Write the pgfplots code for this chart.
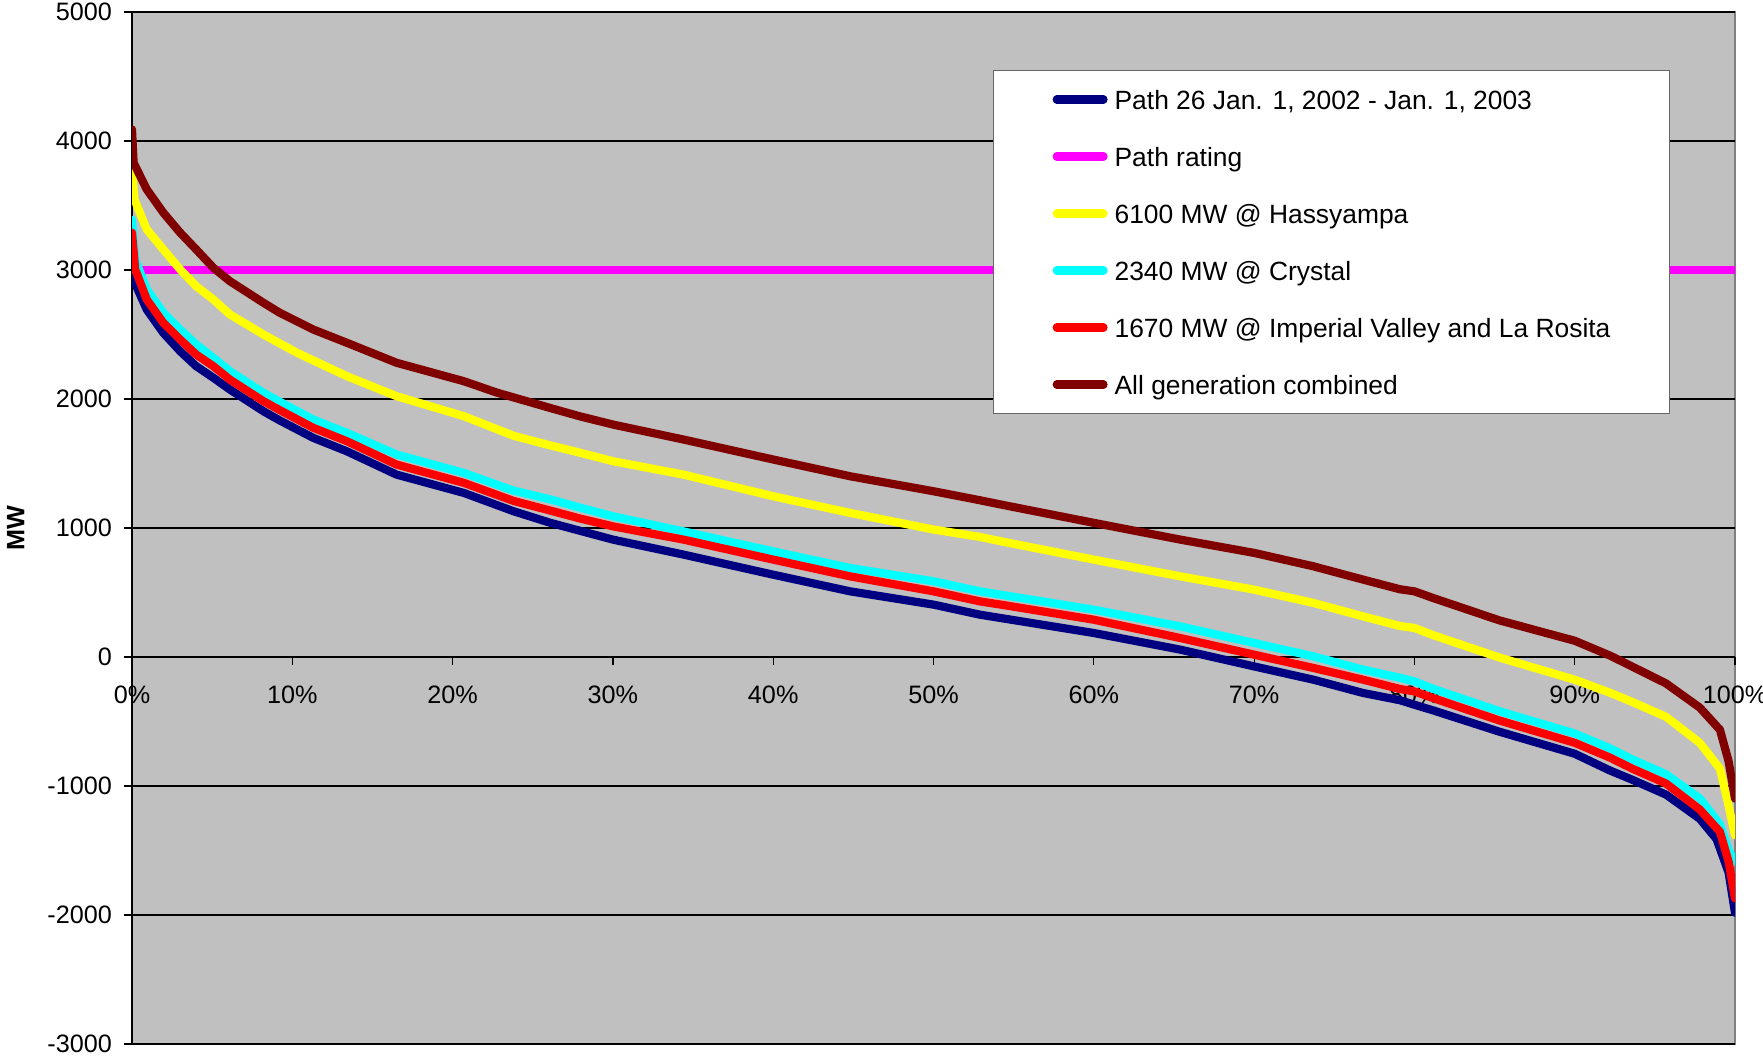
\documentclass[border=0pt]{standalone}
\usepackage{fontspec}
\setmainfont{Liberation Sans}
\usepackage{pgfplots}
\pgfplotsset{compat=1.18}
\definecolor{plotbg}{RGB}{192,192,192}
\definecolor{navyc}{RGB}{0,0,128}
\definecolor{maroonc}{RGB}{128,0,0}
\definecolor{magc}{RGB}{255,0,255}
\definecolor{yelc}{RGB}{255,255,0}
\definecolor{cyac}{RGB}{0,255,255}
\definecolor{redc}{RGB}{255,0,0}
\newcommand{\lstrut}{\rule[-4.2pt]{0pt}{15.6pt}}
\begin{document}
\begin{tikzpicture}
\useasboundingbox (0,0) rectangle (881.5pt,528pt);
\begin{axis}[
 at={(66pt,6pt)}, anchor=south west,
 scale only axis, width=801.5pt, height=516pt,
 xmin=0, xmax=100, ymin=-3000, ymax=5000,
 axis x line=middle, axis y line=left,
 hide obscured x ticks=false, hide obscured y ticks=false,
 axis line style={-, black, line width=0.8pt},
 axis background/.style={fill=plotbg, draw=black!50, line width=1pt},
 xtick={0,10,...,100},
 xticklabels={0\%,10\%,20\%,30\%,40\%,50\%,60\%,70\%,80\%,90\%,100\%},
 ytick={-3000,-2000,...,5000},
 tick align=outside, major tick length=4pt,
 tick style={black, line width=0.6pt},
 ymajorgrids, grid style={black, line width=0.6pt},
 /pgf/number format/assume math mode=true,
 /pgf/number format/1000 sep={},
 tick label style={font=\fontsize{12.6}{14}\selectfont},
 xticklabel style={yshift=-7pt},
 yticklabel style={xshift=-2.5pt},
 ylabel={MW},
 ylabel style={at={(axis description cs:-0.0725,0.5)}, anchor=center, font=\bfseries\fontsize{12.6}{14}\selectfont},
 every axis plot/.append style={line width=4.1pt, line cap=round, line join=round},
 legend style={at={(axis description cs:0.537,0.944)}, anchor=north west, draw=black!60, line width=0.8pt, fill=white,
   font=\fontsize{13.2}{15}\selectfont, inner xsep=29.5pt, inner ysep=8pt, row sep=15.6pt,
   nodes={inner sep=0pt}, /tikz/every odd column/.style={column sep=3.5pt}},
 legend cell align=left,
 legend image code/.code={\draw[#1, line width=4.1pt, line cap=round] (0pt,0pt) -- (23.4pt,0pt);},
]
\addplot[navyc] coordinates {
(0,2950) (0.92,2694) (1.95,2513) (3.0,2371) (4.0,2255) (5.07,2165) (6.1,2074) (8.2,1905) (9.2,1835)
(11.3,1699) (13.4,1595) (16.5,1414) (20.7,1272) (23.8,1130) (26.1,1040) (27.9,980) (30,910) (34.4,794)
(40,638) (44.8,509) (50,406) (52.9,328) (54.2,302) (60,186) (65.4,57) (70,-73) (73.7,-176) (76.8,-279)
(79.1,-335) (80,-370) (81.2,-415) (85.3,-579) (90,-750) (92.2,-880) (93.6,-952) (95.7,-1067) (97.8,-1254)
(98.85,-1412) (99.6,-1670) (100,-1983)};
\addlegendentry{\lstrut Path 26 Jan. 1, 2002 - Jan. 1, 2003}
\addplot[magc] coordinates {(0,3000) (100,3000)};
\addlegendentry{\lstrut Path rating}
\addplot[yelc] coordinates {
(0,3790) (0.15,3548) (0.92,3315) (1.95,3160) (3.0,3005) (4.0,2875) (5.07,2772) (6.1,2656) (8.2,2500)
(10.3,2358) (13.4,2177) (16.5,2022) (20.7,1867) (23.8,1715) (26.1,1640) (27.9,1585) (30,1518) (34.4,1414)
(40,1246) (44.8,1117) (50,988) (52.9,931) (54.2,897) (60,755) (65.4,625) (70,522) (73.7,419) (76.8,315)
(79.1,240) (80,225) (81.2,168) (85.3,-4) (90,-176) (92.2,-277) (93.6,-349) (95.7,-464) (97.8,-665)
(99.06,-866) (99.6,-1153) (100,-1383)};
\addlegendentry{\lstrut 6100 MW @ Hassyampa}
\addplot[cyac] coordinates {
(0,3390) (0.2,3082) (0.92,2850) (1.95,2669) (3.0,2539) (4.0,2423) (5.07,2320) (6.1,2216) (8.2,2048)
(9.2,1980) (11.3,1841) (13.4,1738) (16.5,1570) (20.7,1427) (23.8,1290) (26.1,1222) (27.9,1160) (30,1091)
(34.4,974) (40,819) (44.8,690) (50,587) (52.9,509) (54.2,483) (60,367) (65.4,237) (70,109) (73.7,5)
(76.8,-98) (79.1,-161) (80,-189) (81.2,-248) (85.3,-420) (90,-593) (92.2,-708) (93.6,-794) (95.7,-909)
(97.8,-1096) (99.06,-1297) (99.6,-1499) (100,-1585)};
\addlegendentry{\lstrut 2340 MW @ Crystal}
\addplot[redc] coordinates {
(0,3290) (0.2,3005) (0.92,2772) (1.95,2591) (3.0,2462) (4.0,2345) (5.07,2255) (6.1,2151) (8.2,1983)
(9.2,1915) (11.3,1777) (13.4,1673) (16.5,1492) (20.7,1350) (23.8,1210) (26.1,1135) (27.9,1075) (30,1013)
(34.4,910) (40,755) (44.8,625) (50,509) (52.9,431) (54.2,406) (60,289) (65.4,147) (70,18) (73.7,-85)
(76.8,-176) (79.1,-248) (80,-267) (81.2,-320) (85.3,-492) (90,-665) (92.2,-780) (93.6,-866) (95.7,-981)
(97.8,-1182) (99.06,-1355) (99.6,-1585) (100,-1872)};
\addlegendentry{\lstrut 1670 MW @ Imperial Valley and La Rosita}
\addplot[maroonc] coordinates {
(0,4090) (0.1,3832) (0.92,3625) (1.95,3445) (3.0,3290) (4.0,3160) (5.07,3018) (6.1,2914) (8.2,2746)
(9.2,2670) (11.3,2539) (13.4,2436) (16.5,2281) (20.7,2138) (22.75,2050) (26.1,1930) (27.9,1867) (30,1802)
(34.4,1686) (40,1531) (44.8,1401) (50,1285) (52.9,1215) (54.2,1182) (60,1040) (65.4,910) (70,807)
(73.7,703) (76.8,600) (79.1,525) (80,509) (81.2,456) (85.3,284) (90,126) (92.2,11) (93.6,-75) (95.7,-205)
(97.8,-392) (99.06,-564) (99.6,-808) (100,-1098)};
\addlegendentry{\lstrut All generation combined}
\end{axis}
\end{tikzpicture}
\end{document}
